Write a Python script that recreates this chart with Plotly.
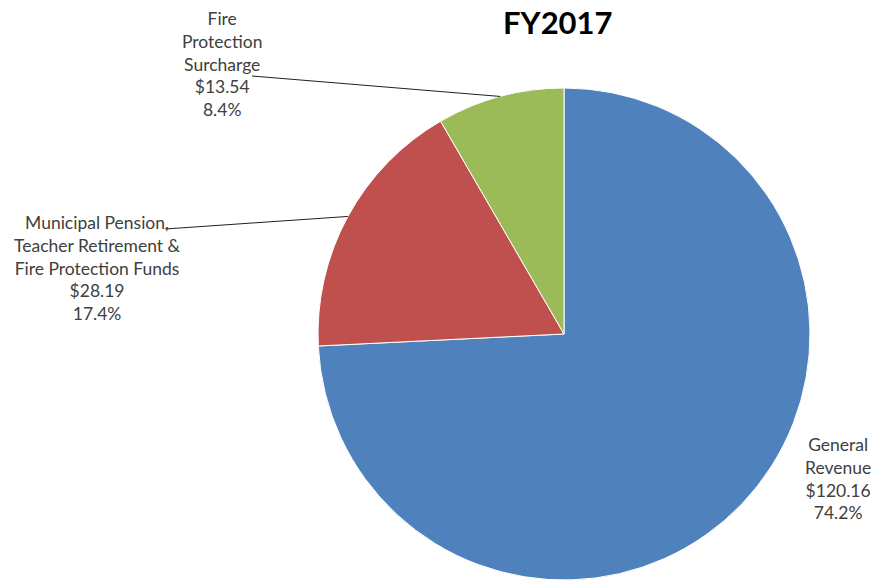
import math
import plotly.graph_objects as go

# Revenue sources, FY2017 (millions of dollars)
categories = ["General\nRevenue",
              "Municipal Pension,\nTeacher Retirement &\nFire Protection Funds",
              "Fire\nProtection\nSurcharge"]
amounts = [120.16, 28.19, 13.54]
percents = ["74.2%", "17.4%", "8.4%"]
colors = ["#4F81BD", "#C0504D", "#9BBB59"]

W, H = 877, 580
# pie geometry in pixels
cx, cy, r = 564, 334, 246

fig = go.Figure(go.Pie(
    labels=categories,
    values=amounts,
    sort=False,
    direction="clockwise",
    rotation=0,
    textinfo="none",
    hoverinfo="label+value+percent",
    marker=dict(colors=colors, line=dict(color="white", width=1)),
    domain=dict(x=[(cx - r) / W, (cx + r) / W], y=[0, 2 * (H - cy) / H]),
    showlegend=False,
))

# label boxes (pixel centres) and whether a leader line is drawn
label_pos = [(838, 478, False), (97, 268, True), (222, 64, True)]
leader_start = [None, (165, 229), (252, 76)]

total = sum(amounts)
cum = 0.0
annotations = []
shapes = []
for i, name in enumerate(categories):
    frac_mid = (cum + amounts[i] / 2) / total
    cum += amounts[i]
    ang = 2 * math.pi * frac_mid
    ex = cx + r * math.sin(ang)
    ey = cy - r * math.cos(ang)
    lx, ly, has_line = label_pos[i]
    text = name.replace("\n", "<br>") + f"<br>${amounts[i]:.2f}<br>{percents[i]}"
    annotations.append(dict(
        x=lx / W, y=1 - ly / H, xref="paper", yref="paper",
        text=text, showarrow=False, align="center",
        xanchor="center", yanchor="middle",
        font=dict(family="Lato, Open Sans, sans-serif", size=17.5, color="#404040"),
    ))
    if has_line:
        sx, sy = leader_start[i]
        shapes.append(dict(
            type="line", xref="paper", yref="paper",
            x0=sx / W, y0=1 - sy / H, x1=ex / W, y1=1 - ey / H,
            line=dict(color="#202020", width=1),
        ))

annotations.append(dict(
    x=558 / W, y=1, xref="paper", yref="paper",
    text="<b>FY2017</b>", showarrow=False,
    xanchor="center", yanchor="top", yshift=-1,
    font=dict(family="Lato, Open Sans, sans-serif", size=31, color="#000000"),
))

fig.update_layout(
    width=W, height=H,
    margin=dict(l=0, r=0, t=0, b=0),
    paper_bgcolor="white",
    plot_bgcolor="white",
    annotations=annotations,
    shapes=shapes,
)

fig.write_html("out.html")
